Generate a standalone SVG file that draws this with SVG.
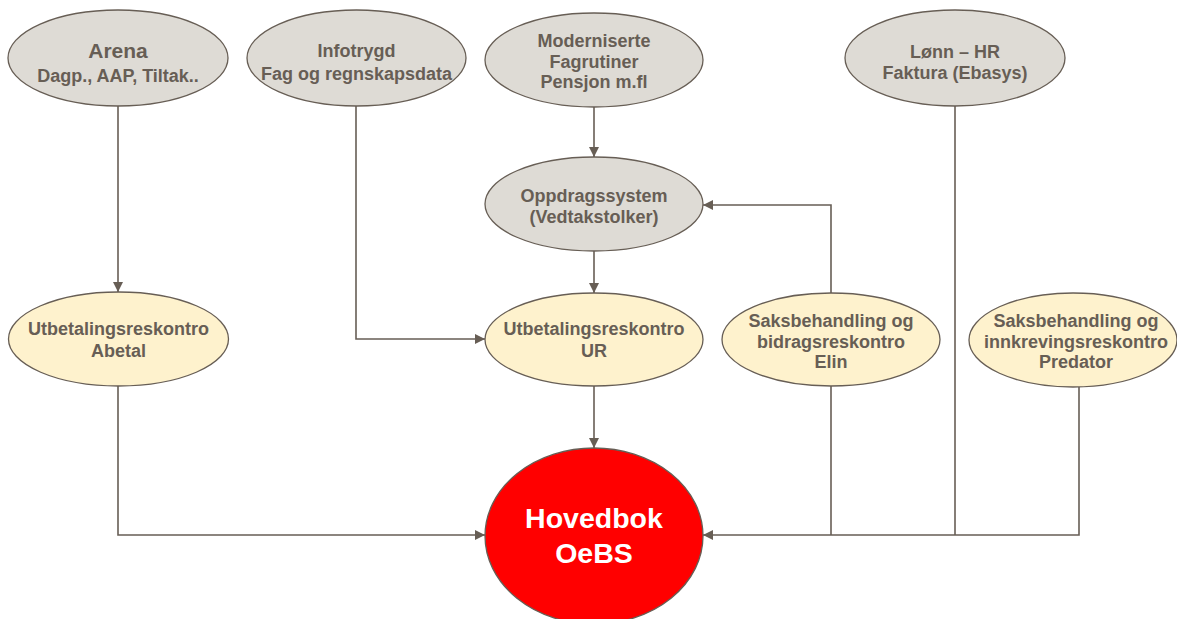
<svg xmlns="http://www.w3.org/2000/svg" width="1177" height="619" viewBox="0 0 1177 619">
<style>
.g{fill:#DEDBD5;stroke:#675E55;stroke-width:1.3}
.y{fill:#FEF2CD;stroke:#675E55;stroke-width:1.3}
.r{fill:#FF0000;stroke:#675E55;stroke-width:1.3}
.t{font-family:"Liberation Sans",Arial,sans-serif;font-weight:bold;font-size:18px;fill:#675E55;text-anchor:middle}
.w{font-family:"Liberation Sans",Arial,sans-serif;font-weight:bold;font-size:28.5px;fill:#FFFFFF;text-anchor:middle}
.c{fill:none;stroke:#675E55;stroke-width:1.6}
</style>
<defs>
<marker id="b" viewBox="0 0 10 10" refX="10" refY="5" markerWidth="10" markerHeight="10" markerUnits="userSpaceOnUse" orient="auto">
<path d="M0,0 L10,5 L0,10 z" fill="#675E55"/>
</marker>
</defs>
<g id="connectors">
<path class="c" d="M118,106 V292" marker-end="url(#b)"/>
<path class="c" d="M356,106 V339 H485" marker-end="url(#b)"/>
<path class="c" d="M594,107 V157" marker-end="url(#b)"/>
<path class="c" d="M594,251 V293" marker-end="url(#b)"/>
<path class="c" d="M831,293 V205 H703" marker-end="url(#b)"/>
<path class="c" d="M594,386 V448" marker-end="url(#b)"/>
<path class="c" d="M118,386 V535 H485" marker-end="url(#b)"/>
<path class="c" d="M1079,387 V535 H703" marker-end="url(#b)"/>
<path class="c" d="M955,106 V535"/>
<path class="c" d="M831,386 V535"/>
</g>
<g id="arena">
<ellipse class="g" cx="118" cy="58" rx="110" ry="48"/>
<text class="t" x="118" y="58" style="font-size:21px">Arena</text>
<text class="t" x="118" y="82">Dagp., AAP, Tiltak..</text>
</g>
<g id="infotrygd">
<ellipse class="g" cx="356.5" cy="58" rx="109.5" ry="48"/>
<text class="t" x="356.5" y="57">Infotrygd</text>
<text class="t" x="356.5" y="80">Fag og regnskapsdata</text>
</g>
<g id="moderniserte">
<ellipse class="g" cx="594" cy="60" rx="109" ry="47"/>
<text class="t" x="594" y="47">Moderniserte</text>
<text class="t" x="594" y="67.5">Fagrutiner</text>
<text class="t" x="594" y="88">Pensjon m.fl</text>
</g>
<g id="lonn">
<ellipse class="g" cx="955" cy="58" rx="110" ry="48"/>
<text class="t" x="955" y="58">Lønn – HR</text>
<text class="t" x="955" y="79">Faktura (Ebasys)</text>
</g>
<g id="oppdrag">
<ellipse class="g" cx="594" cy="204" rx="109" ry="47"/>
<text class="t" x="594" y="202">Oppdragssystem</text>
<text class="t" x="594" y="223">(Vedtakstolker)</text>
</g>
<g id="abetal">
<ellipse class="y" cx="118.5" cy="339" rx="110" ry="47"/>
<text class="t" x="118.5" y="335">Utbetalingsreskontro</text>
<text class="t" x="118.5" y="357">Abetal</text>
</g>
<g id="ur">
<ellipse class="y" cx="594" cy="339.5" rx="109" ry="46.5"/>
<text class="t" x="594" y="335">Utbetalingsreskontro</text>
<text class="t" x="594" y="356.5">UR</text>
</g>
<g id="elin">
<ellipse class="y" cx="831" cy="339.5" rx="109" ry="46.5"/>
<text class="t" x="831" y="327">Saksbehandling og</text>
<text class="t" x="831" y="348">bidragsreskontro</text>
<text class="t" x="831" y="368">Elin</text>
</g>
<g id="predator">
<ellipse class="y" cx="1073" cy="340" rx="104" ry="47"/>
<text class="t" x="1076" y="327">Saksbehandling og</text>
<text class="t" x="1076" y="348">innkrevingsreskontro</text>
<text class="t" x="1076" y="368">Predator</text>
</g>
<g id="hovedbok">
<ellipse class="r" cx="594" cy="536" rx="109" ry="88"/>
<text class="w" x="594" y="528">Hovedbok</text>
<text class="w" x="594" y="563">OeBS</text>
</g>
</svg>
